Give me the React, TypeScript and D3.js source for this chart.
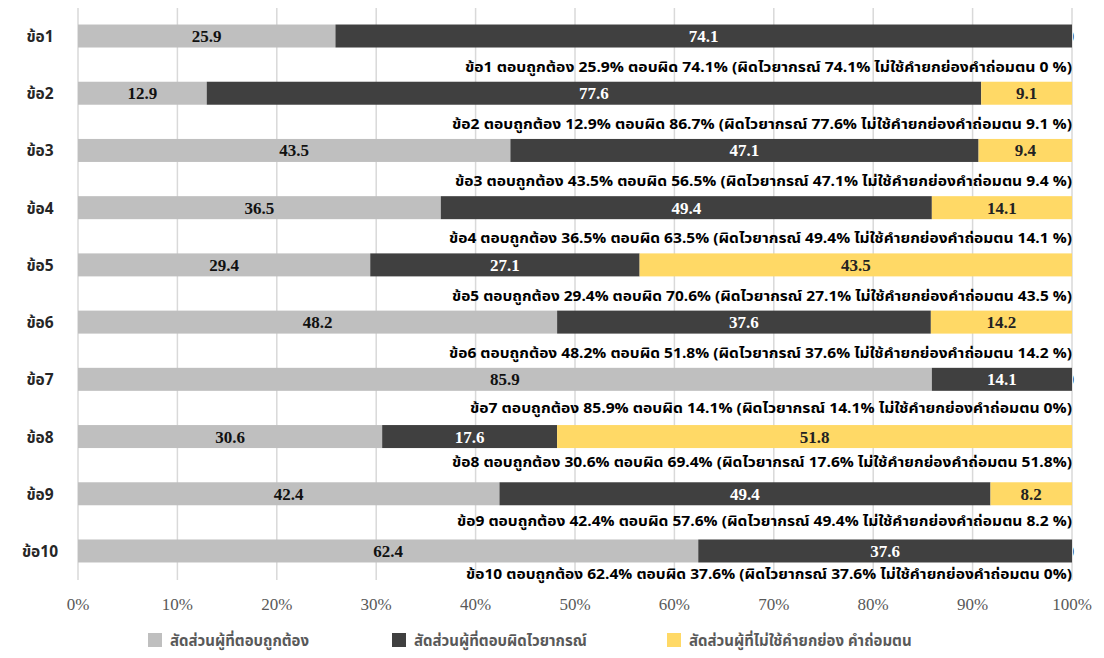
import React from "react";
import * as d3 from "d3";

const categories = ["ข้อ1", "ข้อ2", "ข้อ3", "ข้อ4", "ข้อ5", "ข้อ6", "ข้อ7", "ข้อ8", "ข้อ9", "ข้อ10"];
const correct = [25.9, 12.9, 43.5, 36.5, 29.4, 48.2, 85.9, 30.6, 42.4, 62.4];
const grammarWrong = [74.1, 77.6, 47.1, 49.4, 27.1, 37.6, 14.1, 17.6, 49.4, 37.6];
const noHonorific = [0, 9.1, 9.4, 14.1, 43.5, 14.2, 0, 51.8, 8.2, 0];
const wrongTotal = [74.1, 86.7, 56.5, 63.5, 70.6, 51.8, 14.1, 69.4, 57.6, 37.6];
const honorificText = ["0 %", "9.1 %", "9.4 %", "14.1 %", "43.5 %", "14.2 %", "0%", "51.8%", "8.2 %", "0%"];
const seriesNames = ["สัดส่วนผู้ที่ตอบถูกต้อง", "สัดส่วนผู้ที่ตอบผิดไวยากรณ์", "สัดส่วนผู้ที่ไม่ใช้คำยกย่อง คำถ่อมตน"];
const ticks = [0, 10, 20, 30, 40, 50, 60, 70, 80, 90, 100];

// layout of the free-standing annotation text boxes
const annotationStart = [465, 452, 455, 449, 452, 449, 470, 452, 457, 466];
const annotationBaseline = [72, 129, 186, 243, 301, 358, 413, 467, 526, 579];

const colors = ["#bfbfbf", "#404040", "#ffd966"];
const labelColors = ["#111", "#fff", "#222"];
const thaiFont = "'Noto Sans Thai', 'Tlwg Typo', 'Loma', 'Garuda', 'Noto Sans', 'DejaVu Sans', sans-serif";
const numFont = "'Liberation Serif', 'Times New Roman', serif";

export default function App() {
  const W = 1104, H = 658;
  const x = d3.scaleLinear().domain([0, 100]).range([78, 1072]);
  const y = d3.scaleBand().domain(categories).range([7.4, 579.6]).paddingInner(0).paddingOuter(0);
  const barH = 23;
  const series = [correct, grammarWrong, noHonorific];

  const rows = categories.map((c, i) => {
    const total = d3.sum(series, (s) => s[i]);
    let acc = 0;
    const segs = series.map((s, k) => {
      const v = s[i];
      const p = (v / total) * 100;
      const seg = { k, v, x0: acc, x1: acc + p };
      acc += p;
      return seg;
    });
    return { c, i, segs };
  });

  const legendX = [148, 392, 667];

  return (
    <svg width={W} height={H} style={{ position: "absolute", left: 0, top: 0, background: "#fff" }}>
      <defs>
        <clipPath id="zeroClip">
          <rect x={x(100) + 1} y={0} width={6} height={H} />
        </clipPath>
      </defs>
      {ticks.map((t) => (
        <line key={t} x1={x(t)} x2={x(t)} y1={8} y2={580} stroke="#d9d9d9" strokeWidth={1.5} />
      ))}
      {rows.map(({ c, i, segs }) => {
        const yc = (y(c) as number) + y.bandwidth() / 2;
        return (
          <g key={c}>
            <text x={40} y={yc + 6} textAnchor="middle" fontFamily={thaiFont} fontWeight="bold" fontSize={15.5} fill="#262626">
              {c}
            </text>
            {segs.map((s) =>
              s.v > 0 ? (
                <g key={s.k}>
                  <rect x={x(s.x0)} y={yc - barH / 2} width={x(s.x1) - x(s.x0)} height={barH} fill={colors[s.k]} />
                  <text x={(x(s.x0) + x(s.x1)) / 2} y={yc + 6} textAnchor="middle" fontFamily={numFont} fontWeight="bold" fontSize={17} fill={labelColors[s.k]}>
                    {s.v.toFixed(1)}
                  </text>
                </g>
              ) : (
                <text key={s.k} x={x(s.x0) - 2} y={yc + 6} textAnchor="middle" fontFamily={numFont} fontWeight="bold" fontSize={17} fill="#404040" clipPath="url(#zeroClip)">
                  0
                </text>
              )
            )}
            <text
              x={annotationStart[i]}
              y={annotationBaseline[i]}
              fontFamily={thaiFont}
              fontWeight="bold"
              fontSize={13.5}
              fill="#000"
              textLength={1072 - annotationStart[i]}
              lengthAdjust="spacingAndGlyphs"
            >
              {`${c} ตอบถูกต้อง ${correct[i].toFixed(1)}% ตอบผิด ${wrongTotal[i].toFixed(1)}% (ผิดไวยากรณ์ ${grammarWrong[i].toFixed(1)}% ไม่ใช้คำยกย่องคำถ่อมตน ${honorificText[i]})`}
            </text>
          </g>
        );
      })}
      {ticks.map((t) => (
        <text key={"t" + t} x={x(t)} y={610} textAnchor="middle" fontFamily={numFont} fontSize={17} fill="#595959">
          {t}%
        </text>
      ))}
      {seriesNames.map((n, k) => (
        <g key={n}>
          <rect x={legendX[k]} y={633} width={14} height={14} fill={colors[k]} />
          <text x={legendX[k] + 22} y={646} fontFamily={thaiFont} fontWeight="bold" fontSize={15} fill="#595959">
            {n}
          </text>
        </g>
      ))}
    </svg>
  );
}
